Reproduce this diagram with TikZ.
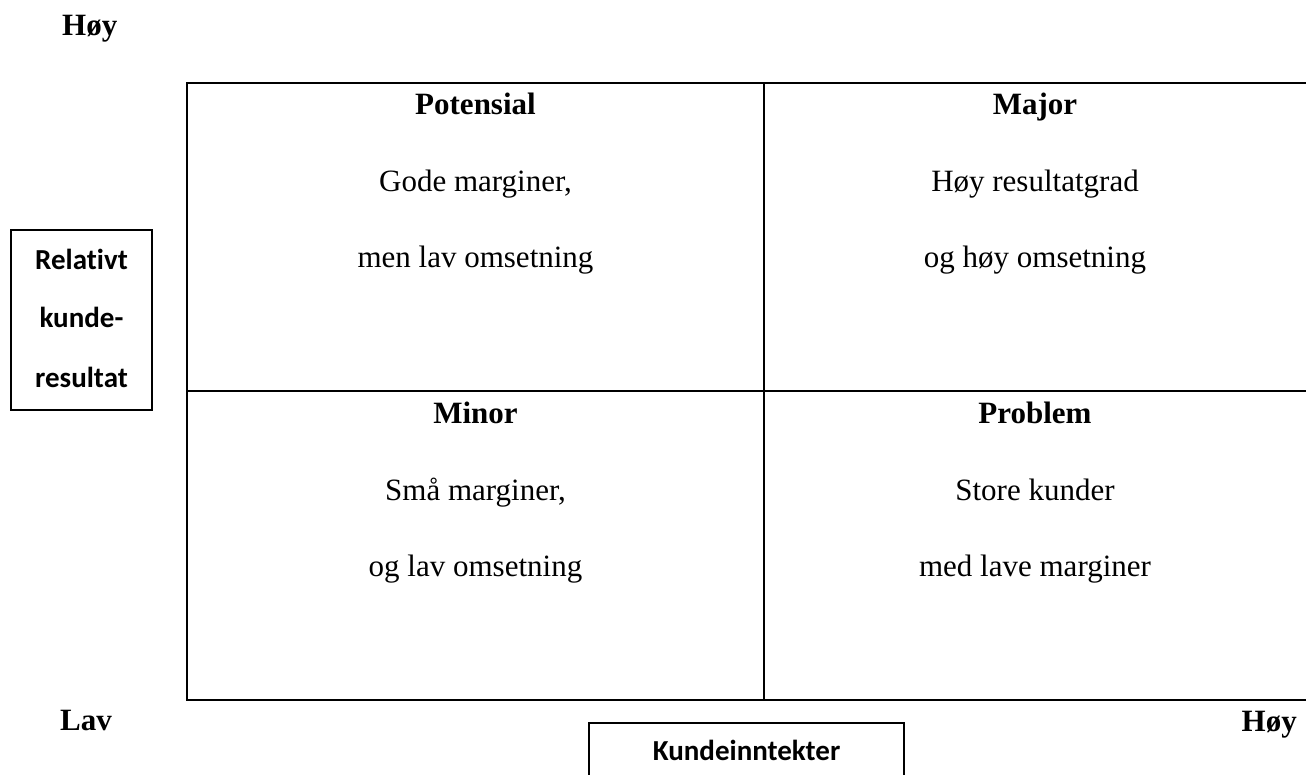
\documentclass[tikz,border=0pt]{standalone}
\usepackage{fontspec}
\setmainfont{Liberation Serif}
\newfontfamily\calibri[Ligatures=NoCommon]{Carlito}
\begin{document}
\begin{tikzpicture}[x=1pt,y=-1pt,
  txt/.style={anchor=base, inner sep=0pt, font=\fontsize{31}{37}\selectfont},
  ttl/.style={anchor=base, inner sep=0pt, font=\fontsize{31}{37}\selectfont\bfseries},
  lbl/.style={anchor=base, inner sep=0pt, font=\calibri\bfseries\fontsize{29}{34}\selectfont},
  framebox/.style={draw, line width=1.6pt, inner sep=0pt},
  gridline/.style={line width=2.2pt}]
\useasboundingbox (0,0) rectangle (1306,775);
% matrix grid
\draw[gridline] (1330,83) -- (187,83) -- (187,700) -- (1330,700);
\draw[gridline] (764,83) -- (764,700);
\draw[gridline] (187,391) -- (1330,391);
% axis labels
\node[ttl, anchor=base west] (yhigh) at (62,36) {Høy};
\node[ttl, anchor=base west] (xlow) at (60,730) {Lav};
\node[ttl, anchor=base east] (xhigh) at (1297,731) {Høy};
% y-axis box
\node[framebox, minimum width=141pt, minimum height=180pt] (ybox) at (81.5,320) {};
\node[lbl] (y1) at (81.5,270) {Relativt};
\node[lbl] (y2) at (81.5,328) {kunde-};
\node[lbl] (y3) at (81.5,387) {resultat};
% x-axis box
\node[framebox, minimum width=315pt, minimum height=90pt, anchor=north] (xbox) at (746.5,722) {};
\node[lbl] (xl) at (746.5,760) {Kundeinntekter};
% quadrant texts
\node[ttl] (q1t) at (475.5,115) {Potensial};
\node[txt] (q1a) at (475.5,192) {Gode marginer,};
\node[txt] (q1b) at (475.5,268) {men lav omsetning};
\node[ttl] (q2t) at (1035,115) {Major};
\node[txt] (q2a) at (1035,192) {Høy resultatgrad};
\node[txt] (q2b) at (1035,268) {og høy omsetning};
\node[ttl] (q3t) at (475.5,423) {Minor};
\node[txt] (q3a) at (475.5,500) {Små marginer,};
\node[txt] (q3b) at (475.5,576) {og lav omsetning};
\node[ttl] (q4t) at (1035,423) {Problem};
\node[txt] (q4a) at (1035,500) {Store kunder};
\node[txt] (q4b) at (1035,576) {med lave marginer};
\end{tikzpicture}
\end{document}
